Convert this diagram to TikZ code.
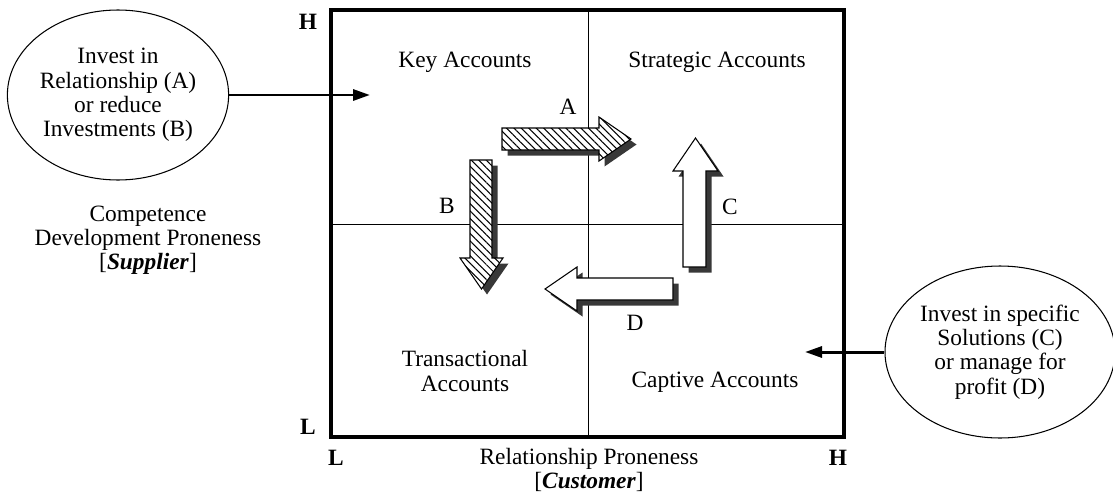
\documentclass[tikz,border=0pt]{standalone}
\usepackage{fontspec}
\setmainfont{Liberation Serif}
\usetikzlibrary{arrows.meta,shapes.geometric,shadows,patterns.meta}
\definecolor{ShadowGray}{HTML}{383838}

\tikzset{
  blockarrow/.style={draw, line width=0.6pt, line join=miter,
    drop shadow={shadow xshift=1.1mm, shadow yshift=-1.1mm,
      fill=ShadowGray, opacity=1}},
  hatcharrow/.style={blockarrow, preaction={fill=white},
    pattern={Lines[angle=-45, distance=3pt, line width=0.6pt]}},
  openarrow/.style={blockarrow, fill=white},
  bubble/.style={ellipse, draw, line width=0.6pt, inner sep=0pt, align=center},
  axismark/.style={font=\fontsize{13.3pt}{13.8pt}\selectfont\bfseries},
  pointer/.style={line width=1.7pt, -{Triangle[length=3.4mm, width=2.2mm]}}
}

\begin{document}
\begin{tikzpicture}[
    % one unit = one pixel of the reference, y running down
    x=0.2mm, y=-0.2mm,
    font=\fontsize{13.3pt}{13.8pt}\selectfont,
    align=center
]
    \useasboundingbox (0,0) rectangle (1113,494);

    \def\xL{331} \def\xR{844} \def\yT{10} \def\yB{437}
    \def\xM{588} \def\yM{224}

    % --- 1. Matrix ---
    \draw[line width=0.5pt] (\xM,\yT) -- (\xM,\yB);
    \draw[line width=0.5pt] (\xL,\yM) -- (\xR,\yM);
    \draw[line width=0.8mm] (\xL,\yT) rectangle (\xR,\yB);

    % --- 2. Axis marks ---
    \node[axismark] (hiV) at (308,22)  {H};
    \node[axismark] (loV) at (308,427) {L};
    \node[axismark] (loH) at (336,458) {L};
    \node[axismark] (hiH) at (838,458) {H};
    \node (axisH) at (589,470) {Relationship Proneness\\{[}\textbf{\textit{Customer}}]};
    \node (axisV) at (148,240) {Competence\\Development Proneness\\{[}\textbf{\textit{Supplier}}]};

    % --- 3. Quadrants ---
    \node (qKey)   at (465,62)  {Key Accounts};
    \node (qStrat) at (717,62)  {Strategic Accounts};
    \node (qTrans) at (465,371) {Transactional\\Accounts};
    \node (qCapt)  at (715,382) {Captive Accounts};

    % --- 4. Block arrows ---
    % A: right, hatched
    \draw[hatcharrow] (502,128) -- (599,128) -- (599,117) -- (631,139)
        -- (599,161) -- (599,150) -- (502,150) -- cycle;
    % B: down, hatched
    \draw[hatcharrow] (470,160) -- (492,160) -- (492,258) -- (503,258)
        -- (481.5,289) -- (460,258) -- (470,258) -- cycle;
    % C: up, open
    \draw[openarrow] (683,267) -- (683,171) -- (673,171) -- (695.5,138)
        -- (718,171) -- (706,171) -- (706,267) -- cycle;
    % D: left, open
    \draw[openarrow] (673,278) -- (577,278) -- (577,267) -- (545,289)
        -- (577,311) -- (577,300) -- (673,300) -- cycle;

    \foreach \name/\px/\py in {A/568/107, B/447/206, C/730/207, D/635/323} {
        \node (lbl\name) at (\px,\py) {\name};
    }

    % --- 5. Bubbles ---
    \node[bubble, minimum width=43.2mm, minimum height=34mm] (invAB) at (118,95)
        {Invest in\\Relationship (A)\\or reduce\\Investments (B)};
    \node[bubble, minimum width=46mm, minimum height=34.4mm] (invCD) at (1000,352)
        {Invest in specific\\Solutions (C)\\or manage for\\profit (D)};

    \coordinate (ptAB) at (370,95);
    \coordinate (ptCD) at (805,352);
    \draw[pointer] (invAB.east) -- (ptAB);
    \draw[pointer] (invCD.west) -- (ptCD);

\end{tikzpicture}
\end{document}
